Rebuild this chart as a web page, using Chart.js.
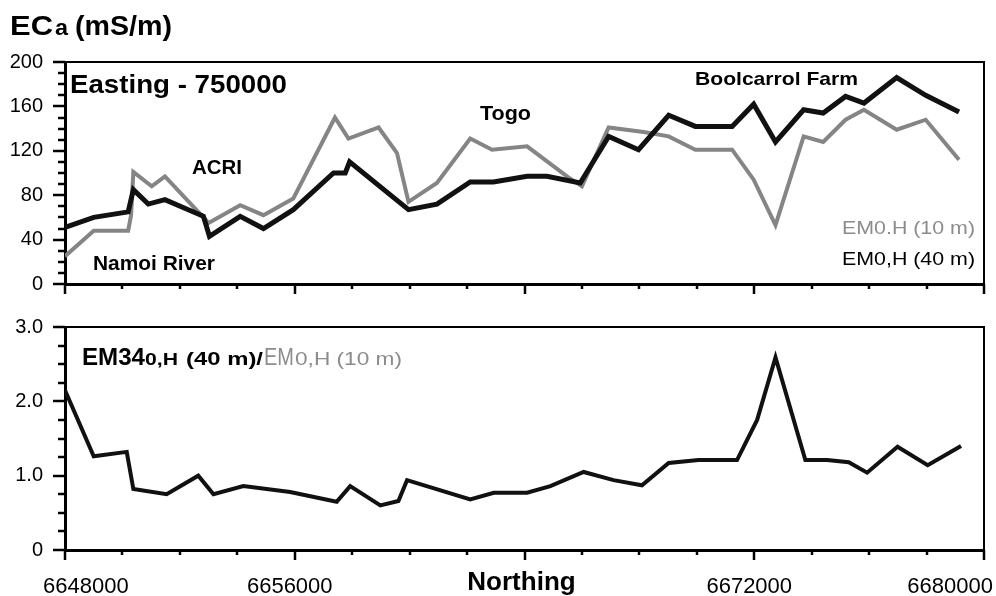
<!DOCTYPE html>
<html>
<head>
<meta charset="utf-8">
<script src="https://cdn.jsdelivr.net/npm/chart.js@4.4.1/dist/chart.umd.min.js"></script>
<style>
  html, body { margin: 0; padding: 0; background: #fff; }
  #wrap { position: relative; width: 996px; height: 596px; overflow: hidden; }
  canvas { position: absolute; left: 0; }
  #top { top: 0; }
  #bottom { top: 300px; }
</style>
</head>
<body>
<div id="wrap">
  <canvas id="top" width="996" height="300"></canvas>
  <canvas id="bottom" width="996" height="296"></canvas>
</div>
<script>
// Transecto ECa a lo largo del Northing (Easting 750000)
const X_MIN = 6648000;
const X_MAX = 6680000;
const xTickLabels = [6648000, 6656000, 6672000, 6680000];

// EM (40 m) - linea negra
const northing40 = [6648000, 6649000, 6650200, 6650380, 6650900, 6651480, 6652820, 6653030, 6654100, 6654910,
  6655950, 6657350, 6657760, 6657910, 6659960, 6660950, 6662110, 6662920, 6664090, 6664780,
  6665940, 6666930, 6667970, 6669020, 6669950, 6671230, 6671980, 6672740, 6673720, 6674400,
  6675180, 6675820, 6676960, 6677970, 6679130];
const ec40 = [51, 60, 65, 85, 72, 76, 61, 43, 61, 50,
  67, 100, 100, 110, 67, 72, 92, 92, 97, 97,
  91, 133, 121, 152, 142, 142, 162, 128, 157, 154,
  169, 163, 186, 170, 155];

// EM (10 m) - linea gris
const northing10 = [6648000, 6649000, 6650200, 6650300, 6650380, 6651020, 6651480, 6653000, 6654100, 6654910,
  6655950, 6657400, 6657870, 6658920, 6659560, 6659960, 6660950, 6662110, 6662870, 6664090,
  6665480, 6666000, 6666930, 6668150, 6669020, 6669950, 6671230, 6671980, 6672740, 6673720,
  6674400, 6675180, 6675820, 6676960, 6677970, 6679130];
const ec10 = [25, 48, 48, 62, 101, 88, 97, 55, 71, 62,
  77, 150, 131, 141, 118, 74, 91, 131, 121, 124,
  97, 88, 141, 137, 133, 121, 121, 94, 53, 133,
  128, 148, 157, 139, 148, 112];

// cociente 40 m / 10 m
const northingRatio = [6648000, 6649000, 6650150, 6650380, 6651540, 6652640, 6653170, 6654210, 6655840, 6657460,
  6657930, 6658980, 6659610, 6659910, 6662110, 6662930, 6664090, 6664900, 6666060, 6667100,
  6668090, 6669020, 6670060, 6671400, 6672100, 6672740, 6673780, 6674540, 6675290, 6675930,
  6676990, 6678040, 6679200];
const ratio = [2.15, 1.26, 1.32, 0.82, 0.75, 1.0, 0.75, 0.86, 0.78, 0.65,
  0.86, 0.6, 0.66, 0.94, 0.68, 0.77, 0.77, 0.86, 1.05, 0.94,
  0.87, 1.17, 1.21, 1.21, 1.75, 2.59, 1.21, 1.21, 1.18, 1.04,
  1.39, 1.14, 1.40];

const FONT = "'Liberation Sans', Arial, Helvetica, sans-serif";
Chart.defaults.font.family = FONT;
Chart.defaults.color = "#000";

function zip(xs, ys) {
  return xs.map((x, i) => ({ x: x, y: ys[i] }));
}

// texto ajustado a un ancho dado (x = borde izquierdo, y = linea base)
function drawText(ctx, text, x, y, font, color, width) {
  ctx.save();
  ctx.font = font;
  ctx.fillStyle = color;
  ctx.textAlign = "left";
  ctx.textBaseline = "alphabetic";
  const w = ctx.measureText(text).width;
  ctx.translate(x, y);
  if (width) ctx.scale(width / w, 1);
  ctx.fillText(text, 0, 0);
  ctx.restore();
}

// marco, marcas mayores y menores de los ejes
const framePlugin = {
  id: "frame",
  afterDraw(chart, args, opts) {
    const ctx = chart.ctx;
    const a = chart.chartArea;
    const xs = chart.scales.x;
    const ys = chart.scales.y;
    ctx.save();
    ctx.strokeStyle = "#000";
    ctx.lineWidth = 2;
    ctx.beginPath();
    ctx.moveTo(a.left, a.top);
    ctx.lineTo(a.right, a.top);
    ctx.lineTo(a.right, a.bottom + 1);
    ctx.stroke();

    ctx.lineWidth = 2.5;
    for (let v = X_MIN; v <= X_MAX; v += 2000) {
      const px = Math.round(xs.getPixelForValue(v));
      const len = (v - X_MIN) % 8000 === 0 ? 10 : 5;
      ctx.beginPath();
      ctx.moveTo(px, a.bottom);
      ctx.lineTo(px, a.bottom + len);
      ctx.stroke();
    }
    for (let v = ys.min; v <= ys.max + 1e-9; v += opts.minorStep) {
      const py = Math.round(ys.getPixelForValue(v));
      const k = v / opts.majorStep;
      const major = Math.abs(k - Math.round(k)) < 1e-6;
      ctx.beginPath();
      ctx.moveTo(a.left, py);
      ctx.lineTo(a.left - (major ? 12 : 7), py);
      ctx.stroke();
    }
    ctx.restore();
  }
};

function baseOptions(yMin, yMax, yStep, padTop, xHeight, yCallback) {
  return {
    responsive: false,
    animation: false,
    events: [],
    layout: { padding: { top: padTop, right: 12, bottom: 0, left: 0 } },
    plugins: {
      legend: { display: false },
      tooltip: { enabled: false }
    },
    scales: {
      x: {
        type: "linear",
        min: X_MIN,
        max: X_MAX,
        grid: { display: false, drawTicks: false },
        ticks: { display: false },
        border: { display: true, color: "#000", width: 3 },
        afterFit: (s) => { s.height = xHeight; }
      },
      y: {
        min: yMin,
        max: yMax,
        grid: { display: false, drawTicks: false },
        border: { display: true, color: "#000", width: 3 },
        ticks: {
          stepSize: yStep,
          padding: 22,
          font: { size: 20 },
          color: "#000",
          callback: yCallback
        },
        afterFit: (s) => {
          s.width = 65;
          s.paddingTop = 0;
          s.paddingBottom = 0;
        }
      }
    }
  };
}

// ---- panel superior: ECa ----
const topOpts = baseOptions(0, 200, 40, 62, 16, (v) => v);
topOpts.plugins.frame = { minorStep: 10, majorStep: 40 };

new Chart(document.getElementById("top"), {
  type: "line",
  data: {
    datasets: [
      {
        label: "EM0,H (40 m)",
        data: zip(northing40, ec40),
        borderColor: "#111",
        borderWidth: 5,
        pointRadius: 0,
        tension: 0
      },
      {
        label: "EM0.H (10 m)",
        data: zip(northing10, ec10),
        borderColor: "#858585",
        borderWidth: 4,
        pointRadius: 0,
        tension: 0
      }
    ]
  },
  options: topOpts,
  plugins: [framePlugin, {
    id: "topText",
    afterDraw(chart) {
      const ctx = chart.ctx;
      drawText(ctx, "EC", 10, 35, "bold 28px " + FONT, "#000", 43);
      drawText(ctx, "a", 55, 35, "bold 22px " + FONT, "#000", 13);
      drawText(ctx, "(mS/m)", 75, 35, "bold 28px " + FONT, "#000", 97);
      drawText(ctx, "Easting - 750000", 70, 93, "bold 25px " + FONT, "#000", 217);
      drawText(ctx, "ACRI", 192, 174, "bold 20px " + FONT, "#000", 50);
      drawText(ctx, "Namoi River", 93, 270, "bold 21px " + FONT, "#000", 122);
      drawText(ctx, "Togo", 480, 120, "bold 21px " + FONT, "#000", 51);
      drawText(ctx, "Boolcarrol Farm", 695, 85, "bold 19px " + FONT, "#000", 163);
      drawText(ctx, "EM0.H (10 m)", 842, 234, "19px " + FONT, "#8c8c8c", 133);
      drawText(ctx, "EM0,H (40 m)", 842, 265, "19px " + FONT, "#000", 133);
    }
  }]
});

// ---- panel inferior: cociente ----
const botOpts = baseOptions(0, 3, 1, 27, 46, (v) => (v === 0 ? "0" : Number(v).toFixed(1)));
botOpts.plugins.frame = { minorStep: 0.25, majorStep: 1 };

new Chart(document.getElementById("bottom"), {
  type: "line",
  data: {
    datasets: [
      {
        label: "EM340,H (40 m)/EM0,H (10 m)",
        data: zip(northingRatio, ratio),
        borderColor: "#111",
        borderWidth: 4,
        pointRadius: 0,
        tension: 0
      }
    ]
  },
  options: botOpts,
  plugins: [framePlugin, {
    id: "bottomText",
    afterDraw(chart) {
      const ctx = chart.ctx;
      const xs = chart.scales.x;
      drawText(ctx, "EM34", 82, 65, "bold 24px " + FONT, "#000", 63);
      drawText(ctx, "0,H", 145, 65, "bold 17px " + FONT, "#000", 33);
      drawText(ctx, "(40 m)/", 186, 65, "bold 18px " + FONT, "#000", 77);
      drawText(ctx, "EM", 264, 65, "23px " + FONT, "#8c8c8c", 30);
      drawText(ctx, "0,H (10 m)", 295, 65, "18px " + FONT, "#8c8c8c", 107);

      // etiquetas del eje x
      ctx.save();
      ctx.font = "22px " + FONT;
      xTickLabels.forEach((v) => {
        const txt = String(v);
        const w = ctx.measureText(txt).width;
        let cx = xs.getPixelForValue(v) - 5;
        cx = Math.max(43 + w / 2, Math.min(993 - w / 2, cx));
        drawText(ctx, txt, cx - w / 2, 293, "22px " + FONT, "#000");
      });
      ctx.restore();

      ctx.save();
      ctx.font = "bold 26px " + FONT;
      const nw = ctx.measureText("Northing").width;
      ctx.restore();
      const nc = xs.getPixelForValue(6664000) - 3;
      drawText(ctx, "Northing", nc - nw / 2, 290, "bold 26px " + FONT, "#000");
    }
  }]
});
</script>
</body>
</html>
